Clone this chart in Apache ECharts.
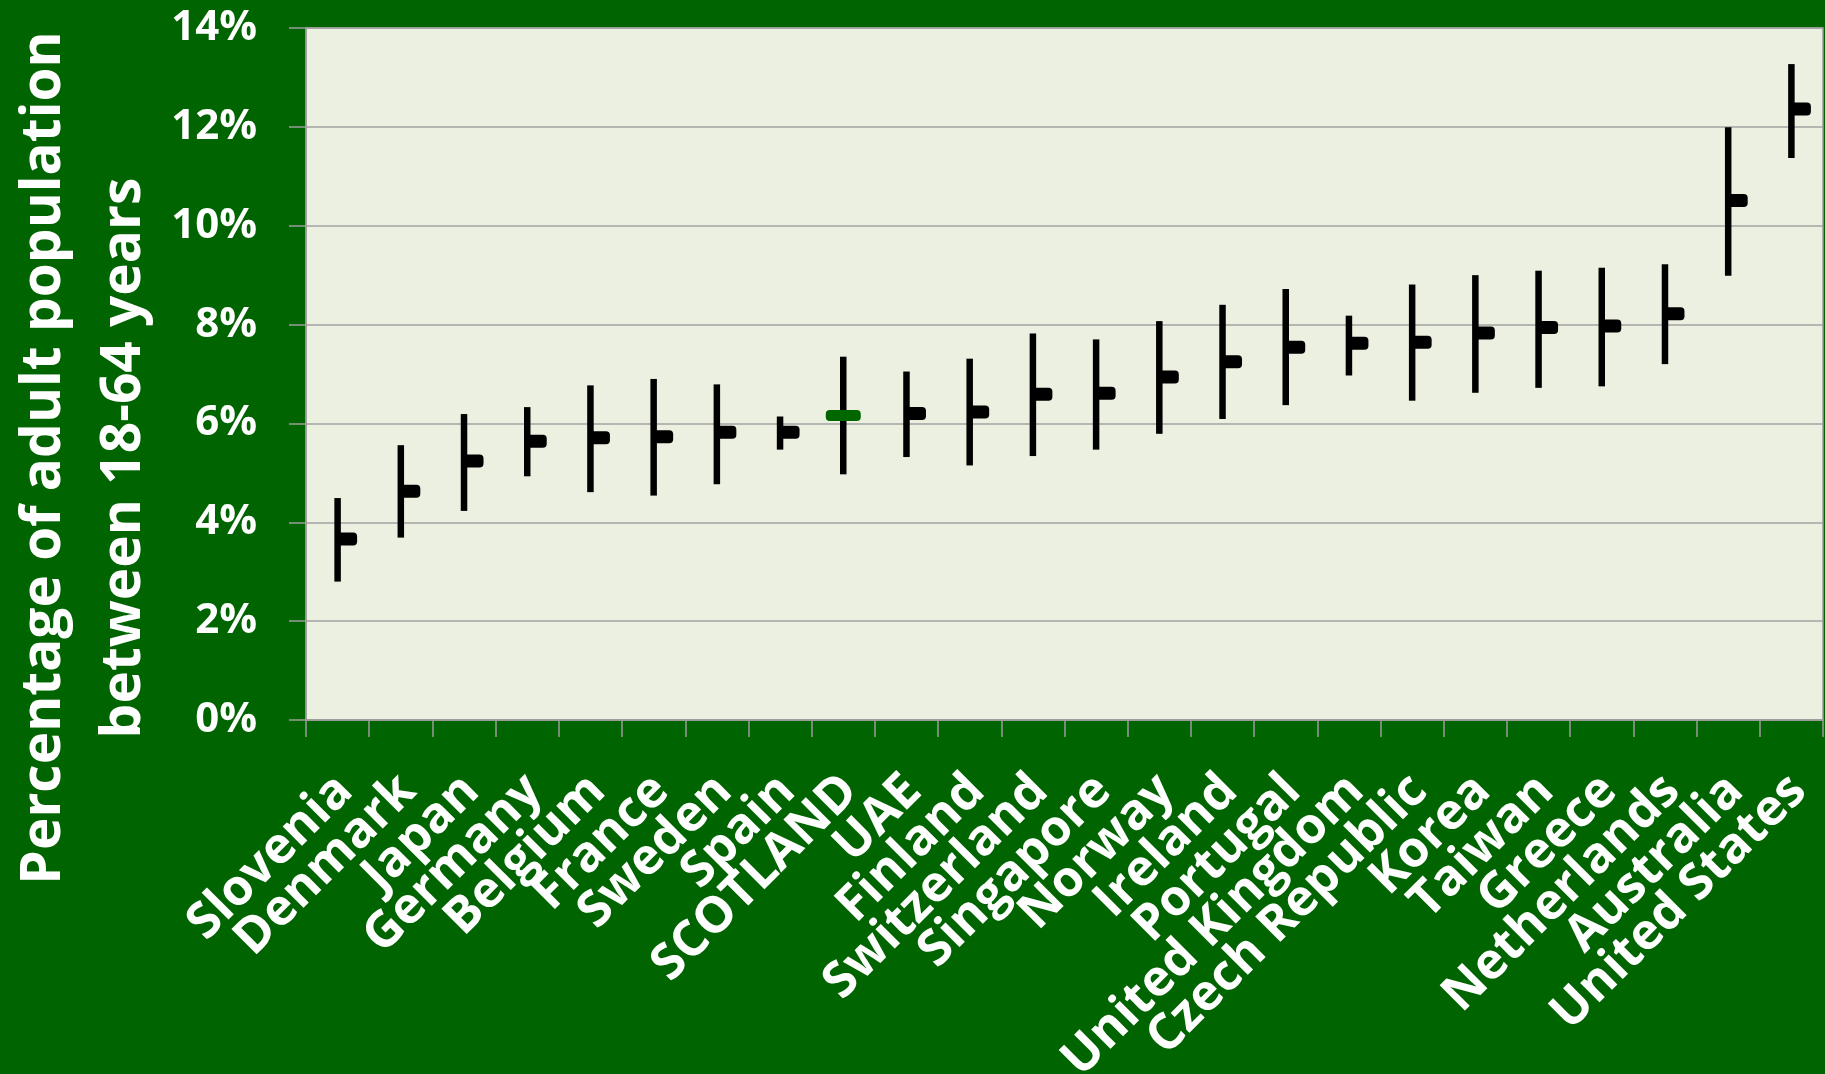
<!DOCTYPE html>
<html>
<head>
<meta charset="utf-8">
<title>Percentage of adult population between 18-64 years</title>
<script src="https://cdn.jsdelivr.net/npm/echarts@6/dist/echarts.min.js"></script>
<style>
  html, body { margin: 0; padding: 0; background: #006400; }
  #chart { width: 1825px; height: 1074px; }
</style>
</head>
<body>
<div id="chart"></div>
<script>
// Country estimates (percent of adults aged 18-64): interval low/high and point estimate
const categories = ['Slovenia', 'Denmark', 'Japan', 'Germany', 'Belgium', 'France', 'Sweden', 'Spain',
  'SCOTLAND', 'UAE', 'Finland', 'Switzerland', 'Singapore', 'Norway', 'Ireland', 'Portugal',
  'United Kingdom', 'Czech Republic', 'Korea', 'Taiwan', 'Greece', 'Netherlands', 'Australia', 'United States'];
const lowValues  = [2.80, 3.69, 4.23, 4.93, 4.61, 4.54, 4.77, 5.47, 4.97, 5.32, 5.15, 5.34,
  5.47, 5.79, 6.09, 6.37, 6.97, 6.46, 6.62, 6.72, 6.75, 7.20, 8.99, 11.37];
const highValues = [4.49, 5.56, 6.19, 6.33, 6.77, 6.90, 6.79, 6.14, 7.35, 7.05, 7.31, 7.82,
  7.70, 8.07, 8.40, 8.72, 8.18, 8.81, 9.00, 9.09, 9.15, 9.22, 11.99, 13.27];
const meanValues = [3.66, 4.63, 5.24, 5.64, 5.71, 5.73, 5.82, 5.82, 6.16, 6.20, 6.23, 6.59,
  6.61, 6.94, 7.25, 7.54, 7.62, 7.64, 7.83, 7.94, 7.97, 8.22, 10.51, 12.36];
const highlighted = 'SCOTLAND';

const yTicks = [0, 2, 4, 6, 8, 10, 12, 14];
const axisTitle = 'Percentage of adult population\nbetween 18-64 years';

const FONT = '"Open Sans", "Noto Sans", sans-serif';
const seriesData = categories.map((c, i) => [i, lowValues[i], highValues[i], meanValues[i]]);

const chart = echarts.init(document.getElementById('chart'));

// High-low line per country with a close-style tick for the estimate
function renderRange(params, api) {
  const idx = api.value(0);
  const pLow = api.coord([idx, api.value(1)]);
  const pHigh = api.coord([idx, api.value(2)]);
  const pMean = api.coord([idx, api.value(3)]);
  const cx = pLow[0];
  const children = [{
    type: 'line',
    shape: { x1: cx, y1: pHigh[1], x2: cx, y2: pLow[1] },
    style: { stroke: '#000', lineWidth: 6.5, lineCap: 'butt' }
  }];
  if (categories[idx] === highlighted) {
    children.push({
      type: 'rect',
      shape: { x: cx - 17.5, y: pMean[1] - 5.5, width: 35, height: 11, r: 4 },
      style: { fill: '#006600' }
    });
  } else {
    children.push({
      type: 'rect',
      shape: { x: cx - 1, y: pMean[1] - 6.5, width: 20.5, height: 13, r: [0, 4, 4, 0] },
      style: { fill: '#000' }
    });
  }
  return { type: 'group', children: children };
}

chart.setOption({
  backgroundColor: '#006400',
  animation: false,
  grid: {
    left: 306, right: 2, top: 28, bottom: 354,
    containLabel: false, outerBoundsMode: 'none',
    show: true, backgroundColor: '#ECF0E0', borderColor: '#9C9C9C', borderWidth: 1.5
  },
  xAxis: {
    type: 'category',
    data: categories,
    boundaryGap: true,
    axisLine: { show: true, lineStyle: { color: '#9C9C9C', width: 1.5 } },
    axisTick: { show: true, interval: 0, length: 17, alignWithLabel: false,
      lineStyle: { color: '#9C9C9C', width: 1.5 } },
    axisLabel: {
      interval: 0, rotate: 45, margin: 56,
      align: 'right', verticalAlign: 'top', lineHeight: 20,
      color: '#FFFFFF', fontFamily: FONT, fontWeight: 'bold', fontSize: 50
    },
    splitLine: { show: false }
  },
  yAxis: {
    type: 'value',
    min: yTicks[0], max: yTicks[yTicks.length - 1], interval: 2,
    axisLine: { show: true, lineStyle: { color: '#9C9C9C', width: 1.5 } },
    axisTick: { show: true, length: 17, lineStyle: { color: '#9C9C9C', width: 1.5 } },
    axisLabel: {
      margin: 49, color: '#FFFFFF', fontFamily: FONT, fontWeight: 'bold', fontSize: 42,
      formatter: '{value}%'
    },
    splitLine: { show: true, lineStyle: { color: '#A3A3A3', width: 1.5 } }
  },
  graphic: [{
    type: 'text',
    x: 84, y: 458,
    rotation: Math.PI / 2,
    style: {
      text: axisTitle,
      fill: '#FFFFFF',
      font: 'bold 55px ' + FONT,
      align: 'center', verticalAlign: 'middle',
      lineHeight: 80
    }
  }],
  series: [{
    type: 'custom',
    renderItem: renderRange,
    encode: { x: 0, y: [1, 2, 3] },
    data: seriesData,
    clip: false
  }]
});
</script>
</body>
</html>
